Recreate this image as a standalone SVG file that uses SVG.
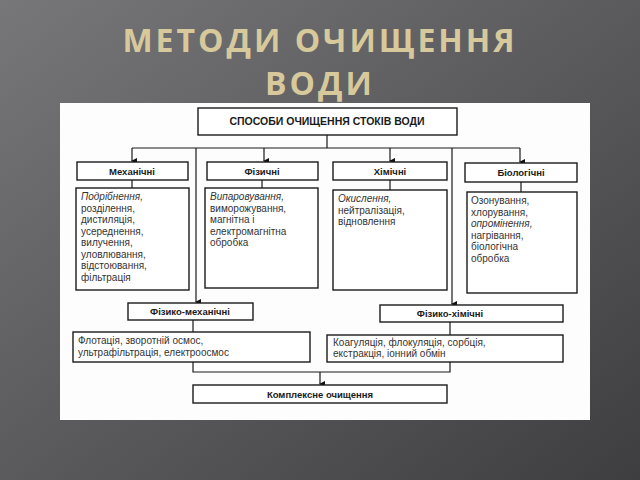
<svg xmlns="http://www.w3.org/2000/svg" width="640" height="480" viewBox="0 0 640 480">
<defs>
<linearGradient id="bg" x1="0" y1="0" x2="1" y2="1">
<stop offset="0" stop-color="#77777a"/><stop offset="1" stop-color="#3e3e41"/>
</linearGradient>
<marker id="ar" markerWidth="6" markerHeight="6" refX="3" refY="5" orient="auto" markerUnits="userSpaceOnUse"><path d="M0,0 L6,0 L3,6 z" fill="#111"/></marker>
<style>
.b{fill:#fff;stroke:#1a1a1a;stroke-width:1.4}
.h{font-family:"Liberation Sans",Arial,sans-serif;font-size:9.5px;font-weight:bold;fill:#1a1a1a;text-anchor:middle}
.t{font-family:"Liberation Sans",Arial,sans-serif;font-size:10px;fill:#333}
.c{fill:none;stroke:#1a1a1a;stroke-width:1.2}
.ti{font-family:"Open Sans","DejaVu Sans",sans-serif;font-size:32px;font-weight:bold;fill:#d8c99c;text-anchor:middle;letter-spacing:3px}
</style>
</defs>
<rect width="640" height="480" fill="url(#bg)"/>
<text class="ti" x="320" y="52">МЕТОДИ ОЧИЩЕННЯ</text>
<text class="ti" x="320" y="95">ВОДИ</text>
<rect x="60" y="103" width="530" height="317" fill="#fdfdfd"/>
<g id="connectors">
<path class="c" d="M327,135 V148 M132,148 H520"/>
<path class="c" d="M132,148 V161" marker-end="url(#ar)"/>
<path class="c" d="M264,148 V161" marker-end="url(#ar)"/>
<path class="c" d="M390,148 V161" marker-end="url(#ar)"/>
<path class="c" d="M520,148 V162" marker-end="url(#ar)"/>
<path class="c" d="M196,148 V302" marker-end="url(#ar)"/>
<path class="c" d="M452,148 V304" marker-end="url(#ar)"/>
<path class="c" d="M132,180 V188 M262,180 V188 M390,180 V190 M521,182 V192"/>
<path class="c" d="M193,320 V332 M450,322 V335"/>
<path class="c" d="M193,362 V372 H450 V362"/>
<path class="c" d="M320,372 V384" marker-end="url(#ar)"/>
</g>
<g id="top"><rect class="b" x="198" y="108" width="259" height="27"/><text class="h" x="327" y="125" style="font-size:10.5px">СПОСОБИ ОЧИЩЕННЯ СТОКІВ ВОДИ</text></g>
<g id="mech"><rect class="b" x="77" y="162" width="111" height="18"/><text class="h" x="132" y="174.5">Механічні</text></g>
<g id="phys"><rect class="b" x="207" y="162" width="111" height="18"/><text class="h" x="262" y="174.5">Фізичні</text></g>
<g id="chem"><rect class="b" x="333" y="162" width="114" height="18"/><text class="h" x="390" y="174.5">Хімічні</text></g>
<g id="bio"><rect class="b" x="465" y="163" width="112" height="19"/><text class="h" x="521" y="176">Біологічні</text></g>
<g id="mech-c"><rect class="b" x="76" y="188" width="113" height="102"/>
<text class="t" x="81" y="200"><tspan x="81" font-style="italic">Подрібнення,</tspan><tspan x="81" dy="11.5">розділення,</tspan><tspan x="81" dy="11.5">дистиляція,</tspan><tspan x="81" dy="11.5">усереднення,</tspan><tspan x="81" dy="11.5">вилучення,</tspan><tspan x="81" dy="11.5">уловлювання,</tspan><tspan x="81" dy="11.5">відстоювання,</tspan><tspan x="81" dy="11.5">фільтрація</tspan></text></g>
<g id="phys-c"><rect class="b" x="205" y="188" width="113" height="100"/>
<text class="t" x="210" y="200"><tspan x="210" font-style="italic">Випаровування,</tspan><tspan x="210" dy="11.5">виморожування,</tspan><tspan x="210" dy="11.5">магнітна і</tspan><tspan x="210" dy="11.5">електромагнітна</tspan><tspan x="210" dy="11.5">обробка</tspan></text></g>
<g id="chem-c"><rect class="b" x="333" y="190" width="114" height="100"/>
<text class="t" x="338" y="202"><tspan x="338" font-style="italic">Окислення,</tspan><tspan x="338" dy="11.5">нейтралізація,</tspan><tspan x="338" dy="11.5">відновлення</tspan></text></g>
<g id="bio-c"><rect class="b" x="467" y="192" width="110" height="101"/>
<text class="t" x="471" y="204"><tspan x="471">Озонування,</tspan><tspan x="471" dy="11.5">хлорування,</tspan><tspan x="471" dy="11.5" font-style="italic">опромінення,</tspan><tspan x="471" dy="11.5">нагрівання,</tspan><tspan x="471" dy="11.5">біологічна</tspan><tspan x="471" dy="11.5">обробка</tspan></text></g>
<g id="fm"><rect class="b" x="128" y="303" width="125" height="17"/><text class="h" x="190" y="315">Фізико-механічні</text></g>
<g id="fx"><rect class="b" x="380" y="305" width="183" height="17"/><text class="h" x="450" y="317">Фізико-хімічні</text></g>
<g id="fm-c"><rect class="b" x="73" y="332" width="237" height="30"/>
<text class="t" x="78" y="344"><tspan x="78">Флотація, зворотній осмос,</tspan><tspan x="78" dy="11.5">ультрафільтрація, електроосмос</tspan></text></g>
<g id="fx-c"><rect class="b" x="327" y="335" width="236" height="27"/>
<text class="t" x="333" y="346"><tspan x="333">Коагуляція, флокуляція, сорбція,</tspan><tspan x="333" dy="11">екстракція, іонний обмін</tspan></text></g>
<g id="complex"><rect class="b" x="193" y="385" width="254" height="18"/><text class="h" x="320" y="397.5">Комплексне очищення</text></g>
</svg>
